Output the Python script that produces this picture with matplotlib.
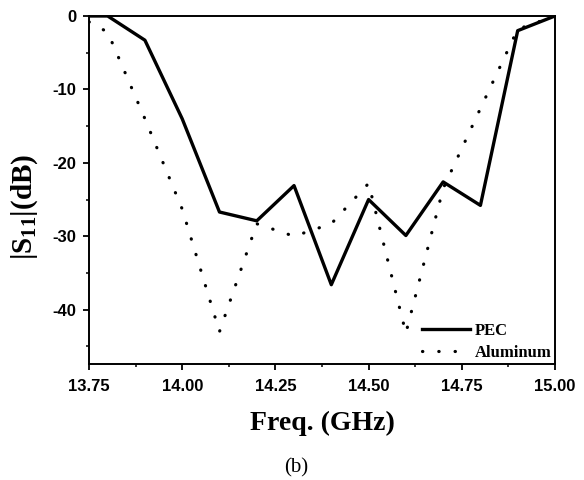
import matplotlib
matplotlib.use('Agg')
import matplotlib.pyplot as plt
from matplotlib.ticker import MultipleLocator

plt.rcParams['axes.unicode_minus'] = False
plt.rcParams['mathtext.fontset'] = 'custom'
plt.rcParams['mathtext.rm'] = 'Liberation Serif'
plt.rcParams['mathtext.bf'] = 'Liberation Serif:bold'

freq = [13.75, 13.80, 13.90, 14.00, 14.10, 14.20, 14.30, 14.40, 14.50, 14.60, 14.70, 14.80, 14.90, 15.00]
pec = [0.0, 0.0, -3.3, -14.0, -26.7, -27.9, -23.1, -36.6, -25.0, -29.9, -22.6, -25.8, -2.0, 0.0]
aluminum = [-0.8, -2.2, -14.0, -26.3, -43.0, -28.3, -30.0, -28.3, -22.8, -43.2, -23.5, -12.6, -1.8, 0.0]

xticks = [13.75, 14.00, 14.25, 14.50, 14.75, 15.00]
yticks = [0, -10, -20, -30, -40]

fig = plt.figure(figsize=(5.84, 4.8), dpi=100)
ax = fig.add_axes([0.1524, 0.2417, 0.7979, 0.725])

ax.plot(freq, pec, color='black', lw=2.4, label='PEC')                       # solid curve
ax.plot(freq, aluminum, color='black', lw=2.3, linestyle=(0, (0.1, 5.0)),
        dash_capstyle='round', label='Aluminum')                              # dotted curve

ax.set_xlim(13.75, 15.0)
ax.set_ylim(-47.4, 0)
ax.set_xticks(xticks)
ax.set_xticklabels(['%.2f' % t for t in xticks])
ax.set_yticks(yticks)
ax.set_yticklabels(['%d' % t for t in yticks])
ax.xaxis.set_minor_locator(MultipleLocator(0.125))
ax.yaxis.set_minor_locator(MultipleLocator(5))

ax.tick_params(which='major', direction='out', length=4, width=1.3, pad=5)
ax.tick_params(which='minor', direction='out', length=2.5, width=1.1)
ax.tick_params(axis='x', which='major', pad=7)
for lbl in ax.get_xticklabels() + ax.get_yticklabels():
    lbl.set_fontfamily('Liberation Sans')
    lbl.set_fontweight('bold')
    lbl.set_fontsize(12)
for sp in ax.spines.values():
    sp.set_linewidth(1.4)

ax.set_xlabel('Freq. (GHz)', family='Liberation Serif', weight='bold', fontsize=20, labelpad=12)
ax.set_ylabel(r'$\mathbf{|S_{11}|(dB)}$', fontsize=21)
ax.yaxis.set_label_coords(-0.105, 0.45)

leg = ax.legend(loc='lower right', frameon=False, handlelength=2.9, handletextpad=0.3,
                borderaxespad=0.1, borderpad=0.1, labelspacing=0.35,
                prop={'family': 'Liberation Serif', 'weight': 'bold', 'size': 12})

fig.text(0.508, 0.026, '(b)', family='Liberation Serif', fontsize=15, ha='center', va='center')

fig.savefig('out.png', dpi=100)
